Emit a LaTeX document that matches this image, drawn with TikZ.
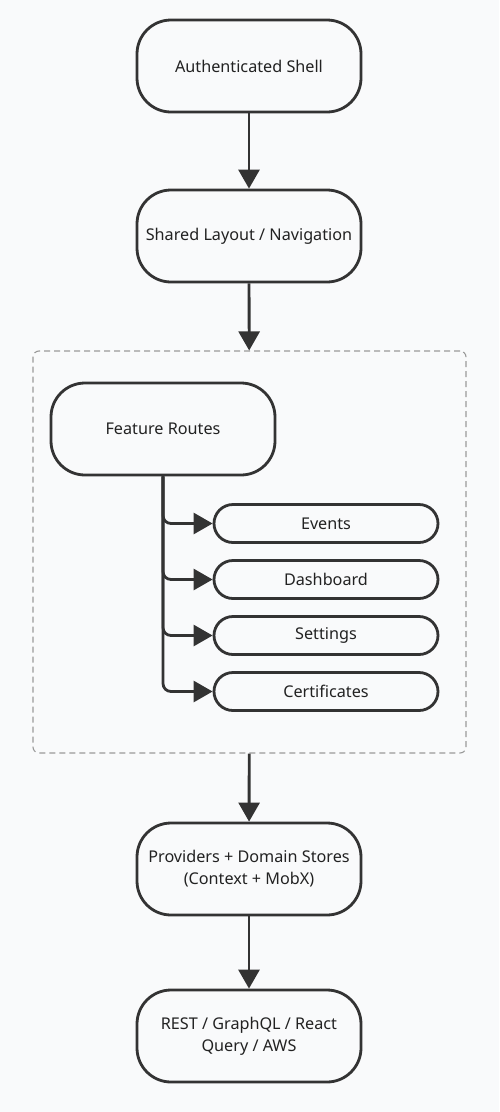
\documentclass[tikz,border=0pt]{standalone}
\usepackage{fontspec}
\setmainfont{Noto Sans}
\usetikzlibrary{arrows.meta,positioning}

\definecolor{bgcol}{HTML}{F9FAFB}
\definecolor{linecol}{HTML}{333333}
\definecolor{textcol}{HTML}{222222}
\definecolor{dashcol}{HTML}{9A9A9A}

\tikzset{
  stagebox/.style={draw=linecol, line width=2.8pt, rounded corners=34pt,
    minimum width=224pt, minimum height=92pt, align=center, text=textcol,
    font=\fontsize{16.2}{22}\selectfont},
  routebox/.style={draw=linecol, line width=2.8pt, rounded corners=19pt,
    minimum width=224pt, minimum height=38pt, text=textcol,
    font=\fontsize{16.2}{22}\selectfont},
  groupbox/.style={draw=dashcol, line width=1.1pt, dash pattern=on 6pt off 4pt,
    rounded corners=6pt, minimum width=433pt, minimum height=402pt},
  flow/.style={draw=linecol, line width=2.8pt,
    -{Triangle[width=21pt,length=19pt]}},
}

\begin{document}
\begin{tikzpicture}[x=1pt,y=-1pt]
\useasboundingbox[fill=bgcol] (0,0) rectangle (499,1112);

\node[stagebox] (shell) at (249,66) {Authenticated Shell};
\node[stagebox] (layout) at (249,236) {Shared Layout / Navigation};

% feature group
\node[groupbox] (features) at (249.5,552) {};
\node[stagebox] (routes) at (163,429) {Feature Routes};
\node[routebox] (events) at (326,523.5) {Events};
\node[routebox] (dashboard) at (326,579.5) {Dashboard};
\node[routebox] (settings) at (326,635.5) {Settings};
\node[routebox] (certificates) at (326,691.5) {Certificates};

\node[stagebox] (stores) at (249,869) {Providers + Domain Stores\\(Context + MobX)};
\node[stagebox] (api) at (249,1036) {REST / GraphQL / React\\Query / AWS};

\draw[flow] (shell) -- (layout);
\draw[flow] (layout) -- (features);
\foreach \r in {events,dashboard,settings,certificates}
  \draw[flow, rounded corners=8pt] (routes.south) |- (\r.west);
\draw[flow] (features) -- (stores);
\draw[flow] (stores) -- (api);
\end{tikzpicture}
\end{document}
